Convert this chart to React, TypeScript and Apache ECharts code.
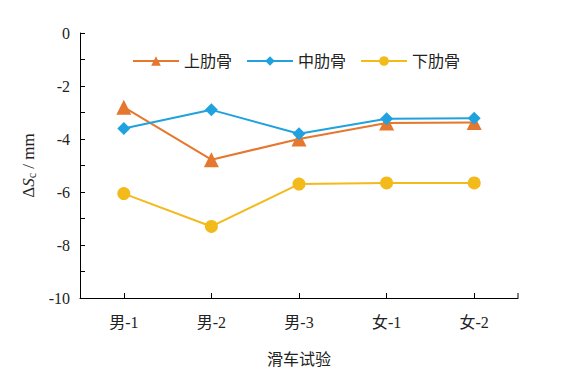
import React, { useEffect, useRef } from "react";
import * as echarts from "echarts";

const categories = ["男-1", "男-2", "男-3", "女-1", "女-2"];
const upperRib = [-2.8, -4.78, -4.0, -3.4, -3.38];
const middleRib = [-3.6, -2.9, -3.8, -3.24, -3.22];
const lowerRib = [-6.06, -7.3, -5.7, -5.66, -5.66];
const seriesNames = ["上肋骨", "中肋骨", "下肋骨"];
const colors = ["#E5772E", "#1FA2DE", "#F3BA1B"];

const FONT = '"Times New Roman", "Liberation Serif", "Noto Sans CJK SC", serif';

export default function App() {
  const ref = useRef<HTMLDivElement>(null);
  useEffect(() => {
    document.body.style.margin = "0";
    const chart = echarts.init(ref.current!, null, { renderer: "svg" });
    const mk = (name: string, data: number[], color: string, symbol: string, size: number) => ({
      name,
      type: "line",
      data,
      symbol,
      symbolSize: size,
      lineStyle: { color, width: 2 },
      itemStyle: { color },
    });
    chart.setOption({
      animation: false,
      backgroundColor: "#fff",
      textStyle: { fontFamily: FONT, color: "#000" },
      grid: { left: 80, right: 45, top: 33, bottom: 76, outerBoundsMode: "none", containLabel: false },
      legend: {
        top: 48,
        left: 127,
        padding: 5,
        itemWidth: 46,
        itemHeight: 12,
        itemGap: 14,
        textStyle: { fontFamily: FONT, fontSize: 16, color: "#222" },
        data: seriesNames,
      },
      xAxis: {
        type: "category",
        data: categories,
        boundaryGap: true,
        name: "滑车试验",
        nameLocation: "middle",
        nameGap: 53,
        nameTextStyle: { fontFamily: FONT, fontSize: 16, color: "#222" },
        axisLine: { show: true, onZero: false, lineStyle: { color: "#000", width: 1 } },
        axisTick: { show: true, inside: true, alignWithLabel: true, length: 5, lineStyle: { color: "#000" } },
        axisLabel: { fontFamily: FONT, fontSize: 16, color: "#222", margin: 16 },
      },
      yAxis: {
        type: "value",
        min: -10,
        max: 0,
        interval: 1,
        name: "{a|Δ}{i|S}{s|c}{a| / mm}",
        nameLocation: "middle",
        nameGap: 37,
        nameRotate: 90,
        nameTextStyle: {
          rich: {
            a: { fontFamily: FONT, fontSize: 17, color: "#222" },
            i: { fontFamily: FONT, fontSize: 17, fontStyle: "italic", color: "#222" },
            s: { fontFamily: FONT, fontSize: 12, color: "#222", verticalAlign: "bottom", padding: [7, 0, 0, 0] },
          },
        },
        splitLine: { show: false },
        axisLine: { show: true, lineStyle: { color: "#000", width: 1 } },
        axisTick: { show: true, inside: true, length: 5, lineStyle: { color: "#000" } },
        axisLabel: {
          fontFamily: FONT,
          fontSize: 16,
          color: "#222",
          margin: 10,
          formatter: (v: number) => (Math.round(v) % 2 === 0 ? String(v) : ""),
        },
      },
      graphic: [
        { type: "line", shape: { x1: 518, y1: 293, x2: 518, y2: 298 }, style: { stroke: "#000", lineWidth: 1 } },
      ],
      series: [
        mk(seriesNames[0], upperRib, colors[0], "triangle", 15),
        mk(seriesNames[1], middleRib, colors[1], "diamond", 13),
        mk(seriesNames[2], lowerRib, colors[2], "circle", 13),
      ],
    });
    return () => chart.dispose();
  }, []);
  return <div ref={ref} style={{ width: 563, height: 374, position: "absolute", left: 0, top: 0 }} />;
}
